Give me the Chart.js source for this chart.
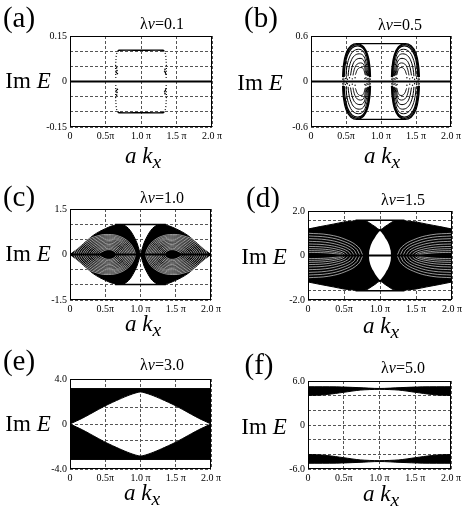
<!DOCTYPE html>
<html><head><meta charset="utf-8">
<script src="https://cdn.jsdelivr.net/npm/chart.js@4.4.1/dist/chart.umd.min.js"></script>
<style>
html,body{margin:0;padding:0;background:#fff;}
#fig{position:relative;width:463px;height:513px;overflow:hidden;font-family:'Liberation Serif','Times New Roman',serif;color:#000;}
#fig canvas{position:absolute;}
.t{position:absolute;white-space:nowrap;transform:translate(-50%,-50%);line-height:1;}
.pl{font-size:29px;}
.ti{font-size:16px;}
.yl{font-size:23px;}
.xl{font-size:23px;}
.xl sub{font-size:0.85em;vertical-align:-0.3em;line-height:0;}
</style></head><body><div id="fig"></div>
<script>
// ================= DATA (x in units of π, y = Im E) =================
const kTicks = [0, 0.5, 1, 1.5, 2];
const kTickLabels = ['0', '0.5π', '1.0 π', '1.5 π', '2.0 π'];
const panelLetters = ['(a)', '(b)', '(c)', '(d)', '(e)', '(f)'];
const lambdaV = ['0.1', '0.5', '1.0', '1.5', '3.0', '5.0'];

// (a) λv = 0.1
const aYTicks = [-0.15, -0.1, -0.05, 0, 0.05, 0.1, 0.15];
const aYLabels = ['0.15', '0', '-0.15'];
const aZeroX = [0, 2], aZeroY = [0, 0];
const aTopX = [0.672, 0.69, 1.0, 1.31, 1.328];
const aTopY = [0.099, 0.103, 0.103, 0.103, 0.099];
const aLeftSideX = [0.646, 0.643, 0.646, 0.655, 0.672];
const aLeftSideY = [0.012, 0.04, 0.07, 0.09, 0.099];
const aRightSideX = [1.354, 1.357, 1.354, 1.345, 1.328];
const aRightSideY = [0.012, 0.04, 0.07, 0.09, 0.099];
const aDotsX = [0.652, 0.662, 0.668, 0.657, 1.342, 1.338, 1.348, 1.333];
const aDotsY = [0.03, 0.036, 0.026, 0.045, 0.03, 0.04, 0.025, 0.034];

// (b) λv = 0.5 — nested rings, upper-left quadrant (mirrored in kx about π and in Im E)
const bYTicks = [-0.6, -0.4, -0.2, 0, 0.2, 0.4, 0.6];
const bYLabels = ['0.6', '0', '-0.6'];
const bRings = [
  [[0.452,0.06],[0.462,0.2],[0.5,0.37],[0.57,0.47],[0.66,0.5],[0.75,0.46],[0.81,0.35],[0.84,0.2],[0.85,0.06]],
  [[0.462,0.06],[0.472,0.2],[0.51,0.36],[0.575,0.455],[0.665,0.485],[0.75,0.45],[0.805,0.34],[0.833,0.2],[0.843,0.06]],
  [[0.474,0.06],[0.484,0.19],[0.52,0.345],[0.585,0.44],[0.67,0.47],[0.748,0.435],[0.8,0.33],[0.826,0.19],[0.836,0.06]],
  [[0.5,0.07],[0.51,0.18],[0.545,0.31],[0.6,0.395],[0.68,0.425],[0.748,0.395],[0.792,0.3],[0.815,0.18],[0.823,0.07]],
  [[0.53,0.07],[0.54,0.16],[0.572,0.27],[0.62,0.34],[0.69,0.365],[0.748,0.34],[0.783,0.26],[0.803,0.16],[0.81,0.07]],
  [[0.565,0.08],[0.575,0.14],[0.6,0.23],[0.64,0.285],[0.7,0.305],[0.748,0.285],[0.775,0.22],[0.79,0.14],[0.797,0.08]],
  [[0.6,0.08],[0.608,0.12],[0.628,0.185],[0.66,0.23],[0.708,0.245],[0.748,0.23],[0.768,0.18],[0.779,0.12],[0.784,0.08]],
  [[0.635,0.09],[0.642,0.11],[0.656,0.145],[0.68,0.175],[0.713,0.185],[0.745,0.172],[0.76,0.14],[0.768,0.11],[0.771,0.09]]
];
const bRingWidths = [1.3, 1.3, 1.3, 1.0, 1.0, 1.0, 0.9, 0.9];
const bBridgeX = [0.66, 1.34], bBridgeY = [0.5, 0.5];
const bFootDotsX = [0.455, 0.46, 0.47, 0.49, 0.52, 0.55, 0.59, 0.63, 0.845, 0.84, 0.83, 0.815, 0.8, 0.785, 0.77];
const bFootDotsY = [0.03, 0.045, 0.02, 0.04, 0.03, 0.05, 0.035, 0.05, 0.03, 0.045, 0.02, 0.04, 0.03, 0.05, 0.04];

// (c) λv = 1.0 — left lobe envelope (upper half) and white inner arcs
const cYTicks = [-1.5, -1.0, -0.5, 0, 0.5, 1.0, 1.5];
const cYLabels = ['1.5', '0', '-1.5'];
const cEnvX = [0, 0.07, 0.14, 0.25, 0.33, 0.42, 0.5, 0.58, 0.66, 0.72, 0.78, 0.83, 0.87, 0.91, 0.95, 0.98, 1.0];
const cEnvY = [0, 0.12, 0.25, 0.48, 0.63, 0.76, 0.85, 0.93, 0.98, 0.99, 0.95, 0.86, 0.74, 0.58, 0.38, 0.16, 0];
const cInnerArcs = [
  [[0.05,0],[0.1,0.2],[0.22,0.45],[0.4,0.62],[0.55,0.66],[0.7,0.6],[0.83,0.42],[0.9,0.2],[0.93,0]],
  [[0.08,0],[0.125,0.185],[0.24,0.42],[0.41,0.58],[0.55,0.62],[0.69,0.565],[0.815,0.395],[0.88,0.19],[0.91,0]],
  [[0.11,0],[0.15,0.17],[0.26,0.39],[0.42,0.54],[0.55,0.58],[0.68,0.53],[0.8,0.37],[0.86,0.18],[0.89,0]],
  [[0.14,0],[0.18,0.16],[0.28,0.36],[0.43,0.5],[0.55,0.54],[0.675,0.495],[0.785,0.345],[0.84,0.165],[0.87,0]],
  [[0.17,0],[0.21,0.15],[0.3,0.33],[0.44,0.46],[0.55,0.5],[0.67,0.46],[0.77,0.32],[0.82,0.15],[0.85,0]],
  [[0.2,0],[0.235,0.14],[0.32,0.3],[0.45,0.42],[0.55,0.46],[0.66,0.42],[0.755,0.295],[0.8,0.14],[0.83,0]],
  [[0.23,0],[0.26,0.13],[0.34,0.27],[0.46,0.38],[0.55,0.42],[0.65,0.38],[0.74,0.27],[0.78,0.13],[0.81,0]],
  [[0.26,0],[0.29,0.115],[0.36,0.24],[0.47,0.34],[0.55,0.375],[0.64,0.34],[0.72,0.24],[0.76,0.115],[0.785,0]],
  [[0.29,0],[0.32,0.1],[0.38,0.21],[0.48,0.3],[0.55,0.33],[0.63,0.3],[0.7,0.21],[0.74,0.1],[0.76,0]],
  [[0.32,0],[0.345,0.09],[0.4,0.185],[0.485,0.26],[0.55,0.29],[0.62,0.26],[0.685,0.18],[0.72,0.09],[0.735,0]],
  [[0.35,0],[0.37,0.08],[0.42,0.16],[0.49,0.22],[0.55,0.25],[0.61,0.22],[0.67,0.15],[0.7,0.08],[0.71,0]],
  [[0.38,0],[0.4,0.07],[0.445,0.135],[0.5,0.185],[0.55,0.205],[0.6,0.185],[0.65,0.125],[0.675,0.065],[0.685,0]],
  [[0.41,0],[0.43,0.06],[0.47,0.11],[0.51,0.15],[0.55,0.16],[0.59,0.15],[0.63,0.1],[0.65,0.05],[0.66,0]]
];
const cBridgeX = [0.64, 1.36], cBridgeY = [0.99, 0.99];

// (d) λv = 1.5 — band envelope, central eye, white fan arcs (upper-left)
const dYTicks = [-2, -1.56, -0.78, 0, 0.78, 1.56, 2];
const dYLabels = ['2.0', '0', '-2.0'];
const dEnvX = [0, 0.17, 0.35, 0.49, 0.6, 0.68, 0.77, 0.82, 0.86, 0.93, 1.0, 1.07, 1.14, 1.18, 1.23, 1.32, 1.4, 1.51, 1.65, 1.83, 2.0];
const dEnvY = [1.19, 1.3, 1.41, 1.5, 1.54, 1.56, 1.57, 1.53, 1.45, 1.3, 1.16, 1.3, 1.45, 1.53, 1.57, 1.56, 1.54, 1.5, 1.41, 1.3, 1.19];
const dEyeX = [0.847, 0.852, 0.87, 0.89, 0.917, 0.944, 0.98, 1.0, 1.02, 1.056, 1.083, 1.11, 1.13, 1.148, 1.153];
const dEyeY = [0, 0.22, 0.44, 0.6, 0.74, 0.89, 1.04, 1.1, 1.04, 0.89, 0.74, 0.6, 0.44, 0.22, 0];
const dFanArcs = [
  [[0,1.0],[0.289,0.93],[0.532,0.71],[0.699,0.38],[0.76,0.02]],
  [[0,0.88],[0.274,0.818],[0.504,0.625],[0.662,0.334],[0.72,0.02]],
  [[0,0.76],[0.258,0.707],[0.476,0.54],[0.626,0.289],[0.68,0.02]],
  [[0,0.64],[0.243,0.595],[0.448,0.454],[0.589,0.243],[0.64,0.02]],
  [[0,0.52],[0.228,0.484],[0.42,0.369],[0.552,0.198],[0.6,0.02]],
  [[0,0.41],[0.213,0.381],[0.392,0.291],[0.515,0.156],[0.56,0.02]],
  [[0,0.31],[0.198,0.288],[0.364,0.22],[0.478,0.118],[0.52,0.02]],
  [[0,0.22],[0.186,0.205],[0.343,0.156],[0.451,0.084],[0.49,0.02]],
  [[0,0.14],[0.175,0.13],[0.322,0.099],[0.423,0.053],[0.46,0.02]]
];
const dBridgeX = [0.66, 1.34], dBridgeY = [1.58, 1.58];

// (e) λv = 3.0 — band outer edge and inner lens (upper half)
const eYTicks = [-4, -3, -1.5, 0, 1.5, 3, 4];
const eYLabels = ['4.0', '0', '-4.0'];
const eOuterX = [0, 2], eOuterY = [3.15, 3.15];
const eLensX = [0, 0.18, 0.37, 0.51, 0.7, 0.85, 1.0, 1.15, 1.3, 1.49, 1.63, 1.82, 2.0];
const eLensY = [0, 0.53, 1.18, 1.65, 2.2, 2.59, 2.85, 2.59, 2.2, 1.65, 1.18, 0.53, 0];

// (f) λv = 5.0 — band outer / inner edges (upper half)
const fYTicks = [-6, -4, -2, 0, 2, 4, 6];
const fYLabels = ['6.0', '0', '-6.0'];
const fOuterX = [0, 0.4, 0.7, 1.0, 1.3, 1.6, 2.0];
const fOuterY = [5.22, 5.2, 5.1, 4.98, 5.1, 5.2, 5.22];
const fInnerX = [0, 0.12, 0.27, 0.5, 0.73, 1.0, 1.27, 1.5, 1.73, 1.88, 2.0];
const fInnerY = [4.03, 4.05, 4.16, 4.46, 4.76, 4.86, 4.76, 4.46, 4.16, 4.05, 4.03];

// ================= helpers =================
const FONT = "'Liberation Serif', 'Times New Roman', serif";
const P = (xs, ys) => xs.map((x, i) => ({x, y: ys[i]}));
const A = pairs => pairs.map(([x, y]) => ({x, y}));
const flipY = d => d.map(p => ({x: p.x, y: -p.y}));
const flipX = d => d.map(p => ({x: 2 - p.x, y: p.y}));
function ds(data, o = {}) {
  return {
    data, showLine: true,
    borderColor: o.c || '#000', borderWidth: o.w ?? 1,
    backgroundColor: o.bg || '#000', fill: o.fill ?? false,
    tension: o.t ?? 0.35, pointRadius: o.r ?? 0,
    pointBackgroundColor: '#000', pointBorderWidth: 0,
    borderDash: o.dash || []
  };
}
const quad = (d, f) => [f(d), f(flipX(d)), f(flipY(d)), f(flipY(flipX(d)))];
const dots = (d, r) => ({...ds(d, {r}), showLine: false});

// ---------- datasets per panel (listed bottom → top) ----------
const aSets = [];
[1, -1].forEach(s => {
  const sy = d => s > 0 ? d : flipY(d);
  aSets.push(ds(sy(P(aTopX, aTopY)), {w: 1.4, t: 0.3}));
  aSets.push(ds(sy(P(aLeftSideX, aLeftSideY)), {w: 1.2, dash: [1, 2], t: 0.3}));
  aSets.push(ds(sy(P(aRightSideX, aRightSideY)), {w: 1.2, dash: [1, 2], t: 0.3}));
  aSets.push(dots(sy(P(aDotsX, aDotsY)), 0.8));
});
aSets.push(ds(P(aZeroX, aZeroY), {w: 2, t: 0}));

const bSets = [];
bRings.forEach((ring, i) => quad(A(ring), d => ds(d, {w: bRingWidths[i], t: 0.4})).forEach(x => bSets.push(x)));
quad(P(bFootDotsX, bFootDotsY), d => dots(d, 0.7)).forEach(x => bSets.push(x));
bSets.push(ds(P(bBridgeX, bBridgeY), {w: 1.3, t: 0}));
bSets.push(ds(flipY(P(bBridgeX, bBridgeY)), {w: 1.3, t: 0}));
bSets.push(ds(P(aZeroX, aZeroY), {w: 2, t: 0}));

const cSets = [];
quad(P(cEnvX, cEnvY), d => ds(d, {w: 1, fill: 'origin', t: 0.3})).forEach(x => cSets.push(x));
cInnerArcs.forEach(arc => quad(A(arc), d => ds(d, {c: '#fff', w: 0.6, t: 0.4})).forEach(x => cSets.push(x)));
cSets.push(ds(P(cBridgeX, cBridgeY), {w: 1.5, t: 0}));
cSets.push(ds(flipY(P(cBridgeX, cBridgeY)), {w: 1.5, t: 0}));
cSets.push(ds(P(aZeroX, aZeroY), {w: 2, t: 0}));

const dSets = [];
dSets.push(ds(P(dEnvX, dEnvY), {w: 1, fill: 'origin', t: 0.3}));
dSets.push(ds(flipY(P(dEnvX, dEnvY)), {w: 1, fill: 'origin', t: 0.3}));
dFanArcs.forEach(arc => quad(A(arc), d => ds(d, {c: '#fff', w: 0.6, t: 0.4})).forEach(x => dSets.push(x)));
dSets.push(ds(P(dEyeX, dEyeY), {c: '#fff', bg: '#fff', w: 0, fill: 'origin', t: 0.15}));
dSets.push(ds(flipY(P(dEyeX, dEyeY)), {c: '#fff', bg: '#fff', w: 0, fill: 'origin', t: 0.15}));
dSets.push(ds(P(dBridgeX, dBridgeY), {w: 1.5, t: 0}));
dSets.push(ds(flipY(P(dBridgeX, dBridgeY)), {w: 1.5, t: 0}));
dSets.push(ds(P(aZeroX, aZeroY), {w: 2, t: 0}));

const eSets = [];
eSets.push(ds(P(eOuterX, eOuterY), {w: 1, fill: '+1', t: 0}));
eSets.push(ds(P(eLensX, eLensY), {w: 1, t: 0.25}));
eSets.push(ds(flipY(P(eOuterX, eOuterY)), {w: 1, fill: '+1', t: 0}));
eSets.push(ds(flipY(P(eLensX, eLensY)), {w: 1, t: 0.25}));

const fSets = [];
fSets.push(ds(P(fOuterX, fOuterY), {w: 1, fill: '+1', t: 0.3}));
fSets.push(ds(P(fInnerX, fInnerY), {w: 1, t: 0.3}));
fSets.push(ds(flipY(P(fOuterX, fOuterY)), {w: 1, fill: '+1', t: 0.3}));
fSets.push(ds(flipY(P(fInnerX, fInnerY)), {w: 1, t: 0.3}));

// ================= layout (page pixels) =================
const panels = [
  {L: 70, R: 212, T: 35, B: 127, ymax: 0.15, yTicks: aYTicks, yLab: aYLabels, sets: aSets,
   letter: [19, 17], title: [162, 24], ylab: [28, 80], xlab: [143, 155]},
  {L: 311, R: 451, T: 35, B: 127, ymax: 0.6, yTicks: bYTicks, yLab: bYLabels, sets: bSets,
   letter: [261, 17], title: [400, 25], ylab: [260, 82], xlab: [382, 155]},
  {L: 70, R: 211, T: 208, B: 300, ymax: 1.5, yTicks: cYTicks, yLab: cYLabels, sets: cSets,
   letter: [19, 196], title: [162, 198], ylab: [28, 253], xlab: [143, 323]},
  {L: 308, R: 452, T: 210, B: 300, ymax: 2, yTicks: dYTicks, yLab: dYLabels, sets: dSets,
   letter: [263, 197], title: [403, 200], ylab: [264, 256], xlab: [381, 325]},
  {L: 70, R: 211, T: 378, B: 469, ymax: 4, yTicks: eYTicks, yLab: eYLabels, sets: eSets,
   letter: [19, 360], title: [162, 365], ylab: [28, 423], xlab: [142, 492]},
  {L: 308, R: 451, T: 380, B: 469, ymax: 6, yTicks: fYTicks, yLab: fYLabels, sets: fSets,
   letter: [259, 364], title: [403, 368], ylab: [264, 426], xlab: [381, 493]}
];

const fig = document.getElementById('fig');
const framePlugin = {
  id: 'frame',
  afterDatasetsDraw(c) {
    const {ctx, chartArea: a} = c;
    ctx.save();
    ctx.strokeStyle = '#000'; ctx.lineWidth = 1;
    ctx.strokeRect(Math.round(a.left) + 0.5, Math.round(a.top) + 0.5,
                   Math.round(a.right) - Math.round(a.left) - 1, Math.round(a.bottom) - Math.round(a.top) - 1);
    ctx.restore();
  }
};

function addText(cls, html, xy) {
  const d = document.createElement('div');
  d.className = 't ' + cls; d.innerHTML = html;
  d.style.left = xy[0] + 'px'; d.style.top = xy[1] + 'px';
  fig.appendChild(d);
}

const PADL = 45, PADT = 8, PADR = 18, XH = 16;
panels.forEach((p, idx) => {
  const cv = document.createElement('canvas');
  const w = p.R - p.L + PADL + PADR, h = p.B - p.T + PADT + XH;
  cv.width = w; cv.height = h;
  cv.style.left = (p.L - PADL) + 'px'; cv.style.top = (p.T - PADT) + 'px';
  cv.style.width = w + 'px'; cv.style.height = h + 'px';
  fig.appendChild(cv);
  p.sets.forEach((d, i) => { d.order = -i; });
  const gridOpts = {color: '#555', lineWidth: 1, drawTicks: false};
  const borderOpts = {display: false, dash: [3, 2]};
  const tickFont = {family: FONT, size: 10};
  new Chart(cv, {
    type: 'scatter',
    data: {datasets: p.sets},
    options: {
      responsive: false, animation: false, events: [], devicePixelRatio: 1,
      layout: {padding: {left: 0, right: PADR, top: PADT, bottom: 0}},
      plugins: {legend: {display: false}, tooltip: {enabled: false}},
      scales: {
        x: {
          type: 'linear', min: 0, max: 2,
          afterFit: s => { s.height = XH; },
          afterBuildTicks: s => { s.ticks = kTicks.map(v => ({value: v})); },
          ticks: {autoSkip: false, maxRotation: 0, padding: 3, color: '#000', font: tickFont,
                  callback: v => { const i = kTicks.indexOf(v); return i >= 0 ? kTickLabels[i] : ''; }},
          grid: gridOpts, border: borderOpts
        },
        y: {
          type: 'linear', min: -p.ymax, max: p.ymax,
          afterFit: s => { s.width = PADL; },
          afterBuildTicks: s => { s.ticks = p.yTicks.map(v => ({value: v})); },
          ticks: {autoSkip: false, padding: 3, color: '#000', font: tickFont,
                  callback: v => v === p.ymax ? p.yLab[0] : (v === 0 ? p.yLab[1] : (v === -p.ymax ? p.yLab[2] : ''))},
          grid: gridOpts, border: borderOpts
        }
      }
    },
    plugins: [framePlugin]
  });
  addText('pl', panelLetters[idx], p.letter);
  addText('ti', 'λ<i>v</i>=' + lambdaV[idx], p.title);
  addText('yl', 'Im <i>E</i>', p.ylab);
  addText('xl', '<i>a k</i><sub><i>x</i></sub>', p.xlab);
});
</script></body></html>
